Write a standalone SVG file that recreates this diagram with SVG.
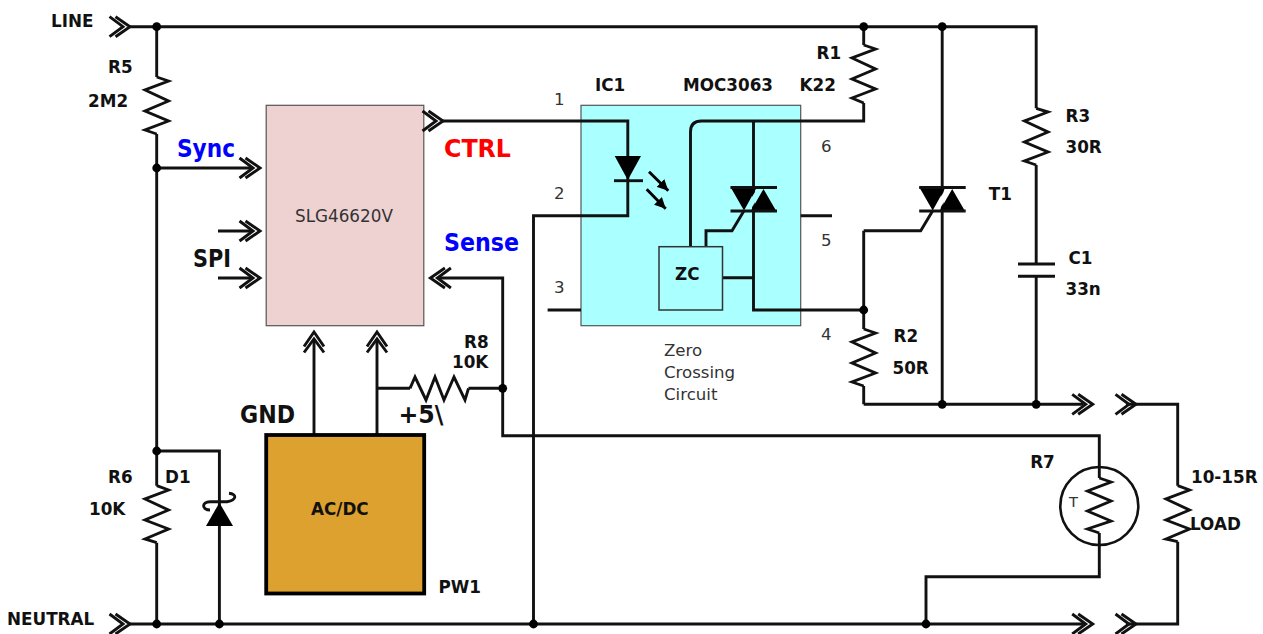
<svg xmlns="http://www.w3.org/2000/svg" xmlns:xlink="http://www.w3.org/1999/xlink" width="1263" height="634" viewBox="0 0 1263 634">
<style>
.w{fill:none;stroke:#111;stroke-width:2.9;stroke-linejoin:miter}
.t{fill:none;stroke:#111;stroke-width:2.9}
.f{fill:#000;stroke:none}
.d{fill:#000;stroke:none}
text{font-family:"DejaVu Sans",sans-serif}
.b{font-weight:700;font-size:16.8px;fill:#111}
.bl{font-weight:700;font-size:24px;fill:#111}
.c{font-weight:700;font-size:24px}
.r{font-size:16.6px;fill:#333}
</style>
<defs>
<path id="chev" class="t" d="M-20.5,-10L-7,0L-20.5,10M-14.5,-10L0,0L-14.5,10"/>
<circle id="dot" class="d" r="4.4"/>
<g id="triac">
<path stroke="none" d="M3.5,-22H10L-3,-1.5H-9.5Z"/>
<path class="f" d="M-23,-24H3.5L-9.5,-0.5ZM10,-22L23,0.5H-3Z"/>
<path class="t" d="M-23,-23.5H23.5M-23,0H23.5"/>
</g>
<marker id="ah" markerWidth="11" markerHeight="11" refX="10" refY="5" orient="auto" markerUnits="userSpaceOnUse" viewBox="0 0 10 10"><path d="M0,0L10,5L0,10Z"/></marker>
</defs>
<rect width="1263" height="634" fill="#fff"/>
<g id="SLG46620V">
<rect x="266.2" y="105.3" width="157.6" height="220.4" fill="#eed2d2" stroke="#555" stroke-width="1.2"/>
<text x="295" y="221.7" style="font-size:16.8px;fill:#333">SLG46620V</text>
</g>
<g id="IC1">
<rect x="581" y="105.3" width="219.7" height="220.4" fill="#aaffff" stroke="#555" stroke-width="1.2"/>
<text class="b" x="595" y="90.7">IC1</text>
<text class="b" x="683" y="90.7">MOC3063</text>
<text class="r" x="554" y="105">1</text>
<text class="r" x="554" y="199">2</text>
<text class="r" x="554" y="293.3">3</text>
<text class="r" x="821" y="152.3">6</text>
<text class="r" x="821" y="246">5</text>
<text class="r" x="821" y="340">4</text>
<text class="r" x="664" y="356">Zero</text>
<text class="r" x="664" y="378">Crossing</text>
<text class="r" x="664" y="400">Circuit</text>
</g>
<g id="connectors">
<path class="w" d="M130,26.7H1036.2V108.3M1036.2,165V264M1036.2,276.3V404.3M863.7,404.3H1083M1126,404.3H1177.7V485.7M1177.7,541.7V624H1126M1083,624H130"/>
<path class="w" d="M156.7,26.7V77M156.7,134V485.7M156.7,542.7V624"/>
<path class="w" d="M156.7,168H253M218,231H253M218,278H253"/>
<path class="w" d="M156.7,451H219.4V624"/>
<path class="w" d="M442,121H627.8V215.7H533.5V624"/>
<path class="w" d="M438,278H502.7V435.7H1099.3V478M1099.3,533V576.7H926V624"/>
<path class="w" d="M314,435V340M377,435V340M377,388.3H410M468.5,388.3H502.7"/>
<path class="w" d="M863.7,26.7V45M863.7,103V121H701.5Q690.5,121 690.5,132V246.7M753.5,121V310H863.7M863.7,230.7V329M863.7,386V404.3"/>
<path class="w" d="M942.2,26.7V404.3"/>
<path class="w" d="M547.6,310H581M800.7,215.7H832M722.5,277.7H753.5M706,246.7V230.7H732L744,210.7M863.7,230.7H920.7L932.7,210.7"/>
<use xlink:href="#chev" href="#chev" transform="translate(130,26.7)"/>
<use xlink:href="#chev" href="#chev" transform="translate(130,624)"/>
<use xlink:href="#chev" href="#chev" transform="translate(260,168)"/>
<use xlink:href="#chev" href="#chev" transform="translate(260,231)"/>
<use xlink:href="#chev" href="#chev" transform="translate(260,278)"/>
<use xlink:href="#chev" href="#chev" transform="translate(443,121)"/>
<use xlink:href="#chev" href="#chev" transform="translate(430.4,278) rotate(180)"/>
<use xlink:href="#chev" href="#chev" transform="translate(314,332) rotate(-90)"/>
<use xlink:href="#chev" href="#chev" transform="translate(377,332) rotate(-90)"/>
<use xlink:href="#chev" href="#chev" transform="translate(1092.7,404.3)"/>
<use xlink:href="#chev" href="#chev" transform="translate(1136,404.3)"/>
<use xlink:href="#chev" href="#chev" transform="translate(1092.7,624)"/>
<use xlink:href="#chev" href="#chev" transform="translate(1136,624)"/>
<use href="#dot" x="156.7" y="26.7"/><use href="#dot" x="863.7" y="26.7"/><use href="#dot" x="942.2" y="26.7"/>
<use href="#dot" x="156.7" y="168"/><use href="#dot" x="156.7" y="451"/><use href="#dot" x="156.7" y="624"/>
<use href="#dot" x="219.4" y="624"/><use href="#dot" x="533.5" y="624"/><use href="#dot" x="926" y="624"/>
<use href="#dot" x="502.7" y="388.3"/><use href="#dot" x="863.7" y="310"/><use href="#dot" x="942.2" y="404.3"/><use href="#dot" x="1036.2" y="404.3"/>
</g>
<g id="R5"><path class="w" d="M156.7,77L168.5,81L145,90L168.5,101L145,111L168.5,121L145,130L156.7,134"/>
<text class="b" x="108" y="73.3">R5</text><text class="b" x="88" y="106.7">2M2</text></g>
<g id="R6"><path class="w" d="M156.7,485.7L168.5,490L145,499L168.5,510L145,520L168.5,529L145,539L156.7,542.7"/>
<text class="b" x="108" y="483.3">R6</text><text class="b" x="89" y="515">10K</text></g>
<g id="D1"><path class="f" d="M219.4,502.7L233,526H206Z"/>
<path class="t" d="M210,510C202,510 201,502 210,501.7H227C237,500 237,494 229,493.3"/>
<text class="b" x="165" y="483.3">D1</text></g>
<g id="R1"><path class="w" d="M863.7,45L875.5,49L852,58L875.5,69L852,79L875.5,89L852,98L863.7,103"/>
<text class="b" x="816.5" y="59.3">R1</text><text class="b" x="799.5" y="90.7">K22</text></g>
<g id="R2"><path class="w" d="M863.7,329L875.5,333L852,342L875.5,353L852,363L875.5,373L852,382L863.7,386"/>
<text class="b" x="893.5" y="341.7">R2</text><text class="b" x="892.5" y="374">50R</text></g>
<g id="R3"><path class="w" d="M1036.2,108.3L1048,112L1024.5,121L1048,132L1024.5,142L1048,152L1024.5,161L1036.2,165"/>
<text class="b" x="1065.5" y="121.7">R3</text><text class="b" x="1065.5" y="153">30R</text></g>
<g id="C1"><path class="w" d="M1018,264H1055M1018,276.3H1055"/>
<text class="b" x="1068.5" y="264">C1</text><text class="b" x="1065.5" y="295">33n</text></g>
<g id="R8"><path class="w" d="M410,388.3L415,377L426,400L435,377L444,400L454,377L465,400L468.5,388.3"/>
<text class="b" x="464" y="348.3">R8</text><text class="b" x="452" y="368.3">10K</text></g>
<g id="R7"><circle cx="1099.3" cy="506" r="39" fill="none" stroke="#111" stroke-width="2.6"/>
<path class="w" d="M1099.3,478L1111,482L1087.5,491L1111,501L1087.5,511L1111,521L1087.5,529L1099.3,533"/>
<text x="1069" y="506.7" style="font-size:14.6px;fill:#333">T</text>
<text class="b" x="1030.2" y="468">R7</text></g>
<g id="LOAD"><path class="w" d="M1177.7,485.7L1189.5,490L1166,499L1189.5,510L1166,520L1189.5,529L1166,539L1177.7,541.7"/>
<text class="b" x="1191" y="483.3">10-15R</text><text class="b" x="1190" y="530">LOAD</text></g>
<g id="LED"><path class="f" d="M614.7,156H641L627.8,180Z"/><path class="t" d="M614,180.7H643"/>
<path stroke="#000" stroke-width="2.9" fill="none" marker-end="url(#ah)" d="M649,171.7L668.3,190.7"/>
<path stroke="#000" stroke-width="2.9" fill="none" marker-end="url(#ah)" d="M646.7,189.3L665.7,208.7"/></g>
<g id="TRIAC1"><use href="#triac" fill="#aaffff" transform="translate(753.5,211)"/></g>
<g id="T1"><use href="#triac" fill="#ffffff" transform="translate(942.2,211)"/><text class="b" x="988.7" y="200">T1</text></g>
<g id="ZC"><rect x="659" y="246.7" width="63.5" height="63.3" fill="#aaffff" stroke="#333" stroke-width="1.5"/>
<text class="b" x="675" y="280">ZC</text></g>
<g id="PW1"><rect x="266.2" y="435" width="158" height="158.5" fill="#dca12e" stroke="#000" stroke-width="3.8"/>
<text class="b" x="311" y="515">AC/DC</text><text class="b" x="438.5" y="593.3">PW1</text></g>
<g id="labels">
<text class="b" x="51" y="26.7">LINE</text>
<text class="b" x="7" y="625">NEUTRAL</text>
<text class="c" x="177" y="156.7" fill="#0000ff" textLength="58" lengthAdjust="spacingAndGlyphs">Sync</text>
<text class="c" x="444" y="156.7" fill="#ff0000" textLength="67" lengthAdjust="spacingAndGlyphs">CTRL</text>
<text class="c" x="444" y="250.7" fill="#0000ff" textLength="75" lengthAdjust="spacingAndGlyphs">Sense</text>
<text class="bl" x="193" y="266.7" textLength="38" lengthAdjust="spacingAndGlyphs">SPI</text>
<text class="bl" x="240" y="423.3" textLength="55" lengthAdjust="spacingAndGlyphs">GND</text>
<text class="bl" x="398.4" y="423.3" textLength="45" lengthAdjust="spacingAndGlyphs">+5\</text>
</g>
</svg>
